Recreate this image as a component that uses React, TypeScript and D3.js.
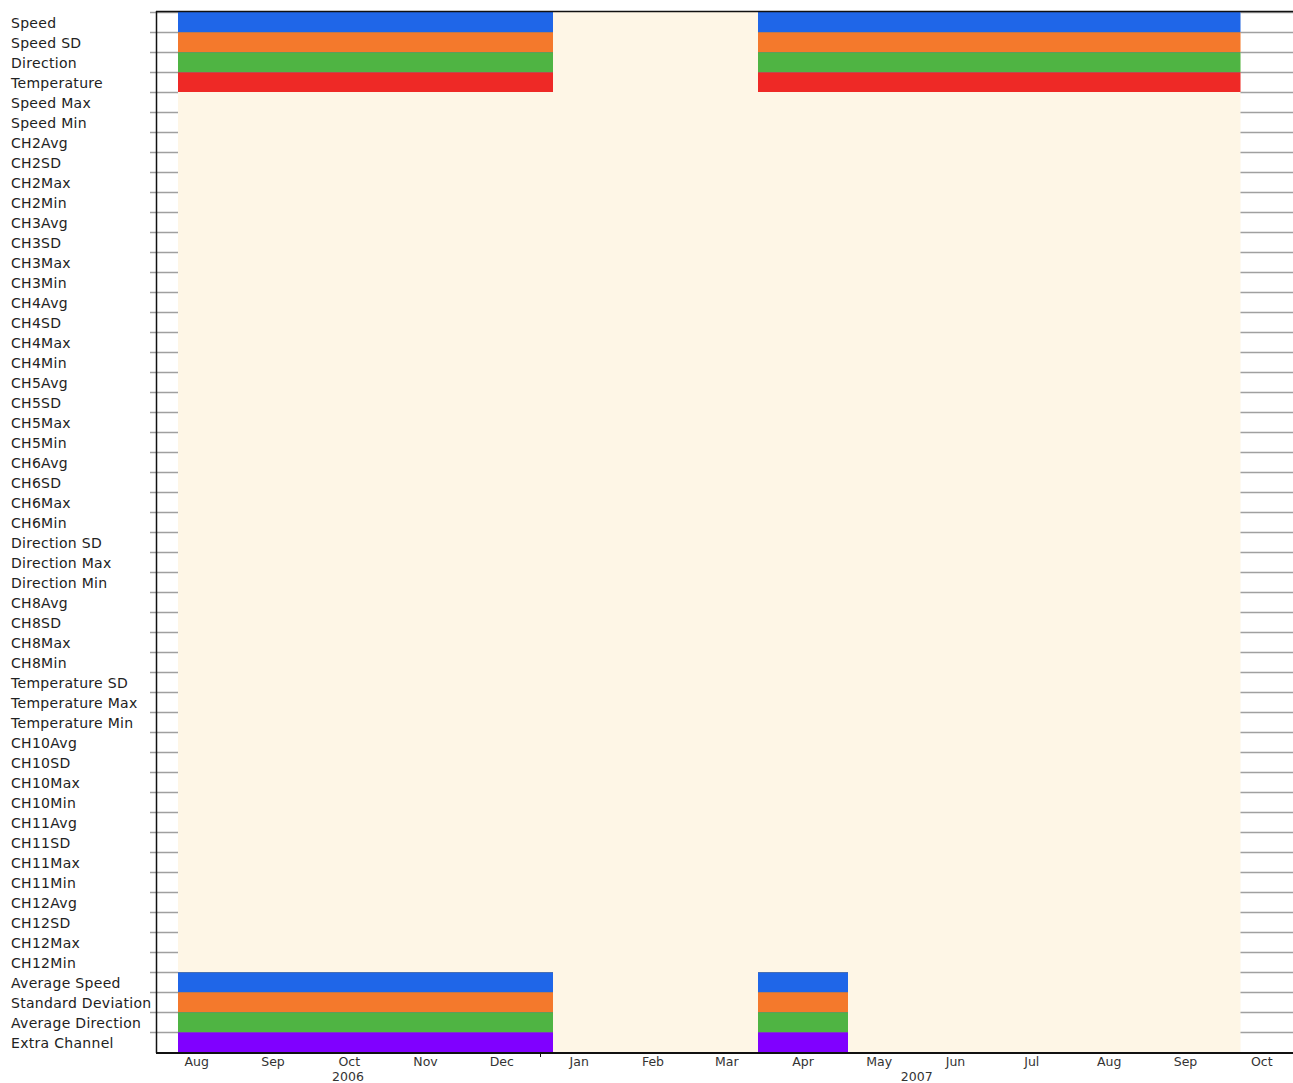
import React, { useEffect, useRef } from "react";
import * as d3 from "d3";

// channel rows, top to bottom
const channels = [
  "Speed", "Speed SD", "Direction", "Temperature", "Speed Max", "Speed Min",
  "CH2Avg", "CH2SD", "CH2Max", "CH2Min",
  "CH3Avg", "CH3SD", "CH3Max", "CH3Min",
  "CH4Avg", "CH4SD", "CH4Max", "CH4Min",
  "CH5Avg", "CH5SD", "CH5Max", "CH5Min",
  "CH6Avg", "CH6SD", "CH6Max", "CH6Min",
  "Direction SD", "Direction Max", "Direction Min",
  "CH8Avg", "CH8SD", "CH8Max", "CH8Min",
  "Temperature SD", "Temperature Max", "Temperature Min",
  "CH10Avg", "CH10SD", "CH10Max", "CH10Min",
  "CH11Avg", "CH11SD", "CH11Max", "CH11Min",
  "CH12Avg", "CH12SD", "CH12Max", "CH12Min",
  "Average Speed", "Standard Deviation", "Average Direction", "Extra Channel",
];

// data coverage periods per channel
const periodA = ["2006-08-09", "2007-01-06"];
const periodB = ["2007-03-29", "2007-10-08"];
const periodC = ["2007-03-29", "2007-05-04"];

const coverage = [
  { channel: "Speed", color: "#1f66e8", periods: [periodA, periodB] },
  { channel: "Speed SD", color: "#f4792c", periods: [periodA, periodB] },
  { channel: "Direction", color: "#4fb443", periods: [periodA, periodB] },
  { channel: "Temperature", color: "#ee2926", periods: [periodA, periodB] },
  { channel: "Average Speed", color: "#1f66e8", periods: [periodA, periodC] },
  { channel: "Standard Deviation", color: "#f4792c", periods: [periodA, periodC] },
  { channel: "Average Direction", color: "#4fb443", periods: [periodA, periodC] },
  { channel: "Extra Channel", color: "#8000ff", periods: [periodA, periodC] },
];

// overall logging window (shaded background) and visible time range
const dataWindow = ["2006-08-09", "2007-10-08"];
const timeRange = ["2006-07-31", "2007-10-29"];

const W = 1293;
const H = 1083;

export default function App() {
  const ref = useRef<SVGSVGElement>(null);

  useEffect(() => {
    const svg = d3.select(ref.current);
    svg.selectAll("*").remove();

    const left = 156, top = 12, bottom = 1052;
    const parse = (s: string) => new Date(s + "T00:00:00Z");

    const x = d3.scaleUtc().domain(timeRange.map(parse)).range([155.5, 1293]);
    const y = d3.scaleBand().domain(channels).range([top, bottom]);
    const rowH = y.bandwidth();

    const font = "Tahoma, 'DejaVu Sans', sans-serif";

    // row gridlines (ticks on the left, visible where no background)
    const bounds = d3.range(channels.length).map((i) => top + i * rowH);
    svg.append("g")
      .selectAll("line")
      .data(bounds)
      .join("line")
      .attr("x1", 150)
      .attr("x2", W)
      .attr("y1", (d) => d + 0.5)
      .attr("y2", (d) => d + 0.5)
      .attr("stroke", "#a0a0a0")
      .attr("stroke-width", 1.3);

    // background for the logging window
    svg.append("rect")
      .attr("x", x(parse(dataWindow[0])))
      .attr("y", top)
      .attr("width", x(parse(dataWindow[1])) - x(parse(dataWindow[0])))
      .attr("height", bottom - top)
      .attr("fill", "#fef6e6");

    // coverage bars
    const segs = coverage.flatMap((c) =>
      c.periods.map((p) => ({ channel: c.channel, color: c.color, s: parse(p[0]), e: parse(p[1]) }))
    );
    const bars = svg.append("g");
    bars.selectAll("rect")
      .data(segs)
      .join("rect")
      .attr("x", (d) => x(d.s))
      .attr("y", (d) => y(d.channel)!)
      .attr("width", (d) => x(d.e) - x(d.s))
      .attr("height", rowH)
      .attr("fill", (d) => d.color);
    bars.selectAll("line")
      .data(segs.filter((d) => y(d.channel)! > top))
      .join("line")
      .attr("x1", (d) => x(d.s))
      .attr("x2", (d) => x(d.e))
      .attr("y1", (d) => y(d.channel)! + 0.5)
      .attr("y2", (d) => y(d.channel)! + 0.5)
      .attr("stroke", "#7a7a7a")
      .attr("stroke-opacity", 0.45);

    // frame lines
    svg.append("line").attr("x1", left).attr("x2", W).attr("y1", 11.5).attr("y2", 11.5)
      .attr("stroke", "#111").attr("stroke-width", 1.5);
    svg.append("line").attr("x1", left).attr("x2", W).attr("y1", 1053).attr("y2", 1053)
      .attr("stroke", "#111").attr("stroke-width", 2);
    svg.append("line").attr("x1", left + 0.5).attr("x2", left + 0.5).attr("y1", 11).attr("y2", 1053)
      .attr("stroke", "#111").attr("stroke-width", 1.5);

    // channel labels
    svg.append("g")
      .selectAll("text")
      .data(channels)
      .join("text")
      .attr("x", 11)
      .attr("y", (d) => y(d)! + rowH / 2 + 5.5)
      .attr("font-family", font)
      .attr("font-size", 14)
      .attr("letter-spacing", 0.3)
      .attr("fill", "#222")
      .text((d) => d);

    // month labels centered in each month
    const [d0, d1] = x.domain();
    const months = d3.utcMonths(d3.utcMonth.floor(d0), d1)
      .map((m) => ({ m, cx: (x(m) + x(d3.utcMonth.offset(m, 1))) / 2 }))
      .filter((d) => d.cx > left);
    svg.append("g")
      .selectAll("text")
      .data(months)
      .join("text")
      .attr("x", (d) => d.cx)
      .attr("y", 1066)
      .attr("text-anchor", "middle")
      .attr("font-family", font)
      .attr("font-size", 12.5)
      .attr("fill", "#333")
      .text((d) => d3.utcFormat("%b")(d.m));

    // year ticks and labels
    const years = d3.utcYears(d0, d1);
    svg.append("g")
      .selectAll("line")
      .data(years)
      .join("line")
      .attr("x1", (d) => x(d))
      .attr("x2", (d) => x(d))
      .attr("y1", 1053)
      .attr("y2", 1057)
      .attr("stroke", "#111");
    const yearStarts = [d0, ...years];
    svg.append("g")
      .selectAll("text")
      .data(yearStarts)
      .join("text")
      .attr("x", (d, i) => (x(d) + x(i + 1 < yearStarts.length ? yearStarts[i + 1] : d1)) / 2)
      .attr("y", 1081)
      .attr("text-anchor", "middle")
      .attr("font-family", font)
      .attr("font-size", 12.5)
      .attr("fill", "#333")
      .text((d) => d3.utcFormat("%Y")(d));
  }, []);

  return (
    <svg
      ref={ref}
      width={W}
      height={H}
      style={{ position: "absolute", left: 0, top: 0, background: "#fff" }}
    />
  );
}
